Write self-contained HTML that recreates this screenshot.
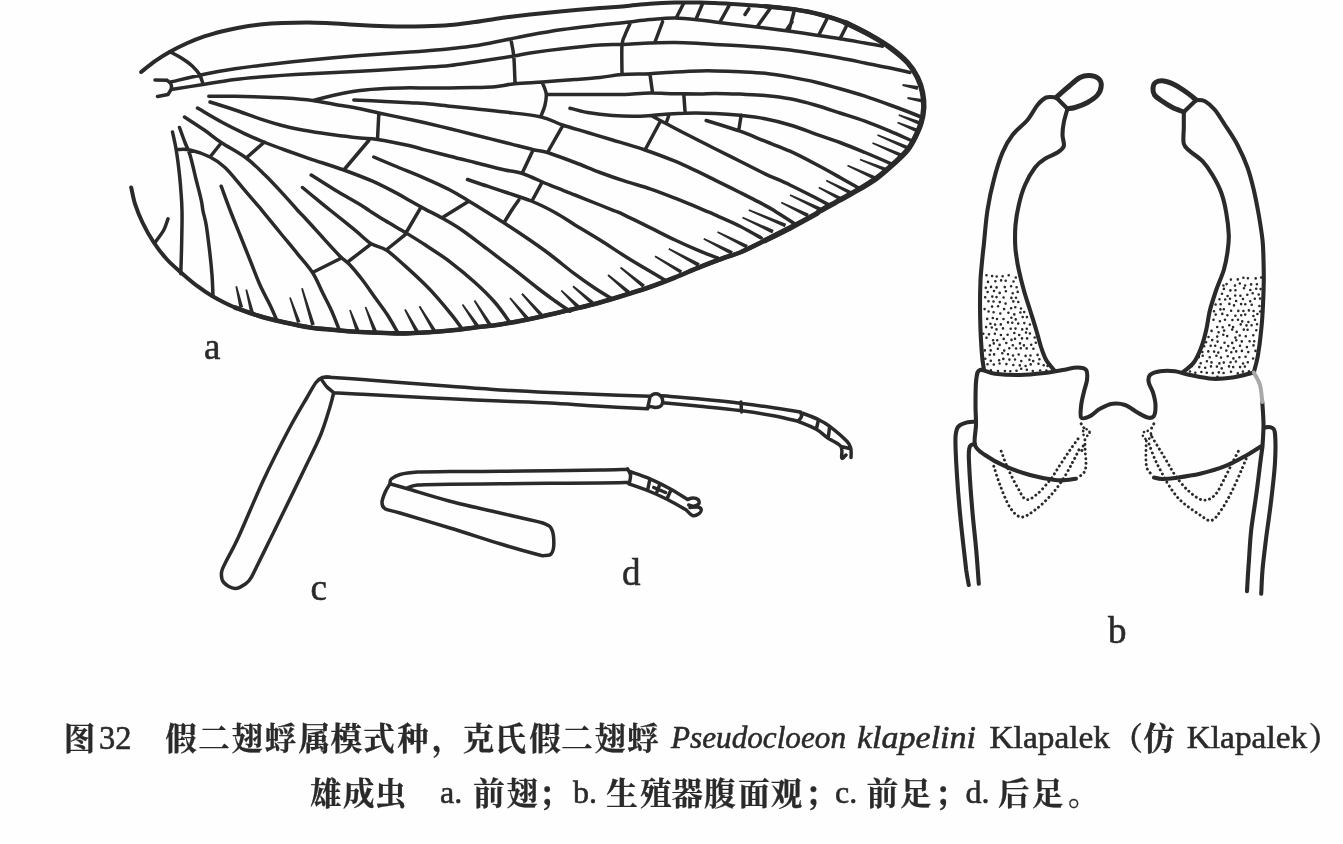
<!DOCTYPE html>
<html><head><meta charset="utf-8"><title>Fig. 32 Pseudocloeon klapelini</title>
<style>html,body{margin:0;padding:0;background:#fefefe}body{width:1343px;height:844px;overflow:hidden;font-family:"Liberation Serif",serif}svg{display:block;filter:blur(0.45px)}</style>
</head><body>
<svg width="1343" height="844" viewBox="0 0 1343 844">
<rect width="1343" height="844" fill="#fefefe"/>
<g fill="none" stroke="#2a2a2a" stroke-linecap="round" stroke-linejoin="round">
<path stroke-width="4.0" d="M141.2 72.0C143.5 70.2 150.2 64.6 155.0 61.2C159.8 57.9 164.6 54.8 170.0 51.8C175.4 48.7 181.7 45.6 187.5 43.0C193.3 40.4 199.2 38.2 205.0 36.2C210.8 34.3 216.7 32.7 222.5 31.2C228.3 29.8 233.8 28.6 240.0 27.5C246.2 26.4 252.9 25.2 260.0 24.5C267.1 23.8 274.6 23.3 282.5 23.0C290.4 22.7 299.6 22.5 307.5 22.5C315.4 22.5 322.9 22.9 330.0 23.2C337.1 23.6 342.9 24.1 350.0 24.5C357.1 24.9 364.6 25.4 372.5 25.8C380.4 26.1 388.8 26.4 397.5 26.5C406.2 26.6 416.2 26.5 425.0 26.2C433.8 26.0 441.7 25.7 450.0 25.0C458.3 24.3 465.8 23.2 475.0 22.0C484.2 20.8 495.8 18.8 505.0 17.5C514.2 16.2 520.4 15.5 530.0 14.5C539.6 13.5 550.8 12.3 562.5 11.2C574.2 10.2 589.6 8.8 600.0 8.0C610.4 7.2 616.7 7.0 625.0 6.2C633.3 5.5 641.7 4.4 650.0 3.8C658.3 3.1 666.7 2.7 675.0 2.5C683.3 2.3 693.3 2.4 700.0 2.5C706.7 2.6 708.3 2.7 715.0 3.0C721.7 3.3 731.7 4.0 740.0 4.5C748.3 5.0 755.8 5.4 765.0 6.2C774.2 7.1 785.8 8.1 795.0 9.5C804.2 10.9 811.7 12.3 820.0 14.5C828.3 16.7 836.7 19.1 845.0 22.5C853.3 25.9 862.5 30.8 870.0 35.0C877.5 39.2 883.8 42.9 890.0 47.5C896.2 52.1 902.9 57.5 907.5 62.5C912.1 67.5 915.0 72.5 917.5 77.5C920.0 82.5 921.5 87.5 922.5 92.5C923.5 97.5 924.0 102.5 923.8 107.5C923.5 112.5 922.7 117.5 921.2 122.5C919.8 127.5 917.3 132.9 915.0 137.5C912.7 142.1 910.8 145.8 907.5 150.0C904.2 154.2 900.0 157.9 895.0 162.5C890.0 167.1 883.3 173.1 877.5 177.5C871.7 181.9 866.2 185.0 860.0 188.8C853.8 192.5 846.7 196.3 840.0 200.0C833.3 203.7 824.2 208.6 820.0 211.0C815.8 213.4 820.0 211.7 815.0 214.5C810.0 217.3 798.3 223.7 790.0 228.0C781.7 232.3 773.3 236.4 765.0 240.5C756.7 244.6 746.7 249.7 740.0 252.5C733.3 255.3 731.7 255.1 725.0 257.5C718.3 259.9 708.3 263.7 700.0 267.0C691.7 270.3 683.3 274.2 675.0 277.5C666.7 280.8 658.3 284.1 650.0 287.0C641.7 289.9 633.3 292.4 625.0 295.0C616.7 297.6 608.3 300.2 600.0 302.5C591.7 304.8 583.3 306.8 575.0 308.8C566.7 310.8 558.3 312.6 550.0 314.5C541.7 316.4 533.3 318.3 525.0 320.0C516.7 321.7 508.3 323.2 500.0 324.5C491.7 325.8 483.3 326.5 475.0 327.5C466.7 328.5 460.8 329.5 450.0 330.5C439.2 331.5 420.8 332.8 410.0 333.2C399.2 333.7 393.3 333.2 385.0 333.0C376.7 332.8 368.3 332.5 360.0 332.0C351.7 331.5 343.3 330.8 335.0 330.0C326.7 329.2 318.3 328.8 310.0 327.5C301.7 326.2 293.3 324.4 285.0 322.5C276.7 320.6 268.3 318.8 260.0 316.2C251.7 313.8 242.9 310.8 235.0 307.5C227.1 304.2 218.8 299.8 212.5 296.2C206.2 292.7 202.5 290.0 197.5 286.2C192.5 282.5 187.5 278.1 182.5 273.8C177.5 269.4 172.3 265.2 167.5 260.0C162.7 254.8 157.9 248.8 153.8 242.5C149.6 236.2 145.6 229.0 142.5 222.5C139.4 216.0 136.9 209.6 135.0 203.8C133.1 197.9 131.9 190.2 131.2 187.5"/>
<path stroke-width="5.4" d="M845.0 22.5C849.2 24.6 862.5 30.8 870.0 35.0C877.5 39.2 883.8 42.9 890.0 47.5C896.2 52.1 902.9 57.5 907.5 62.5C912.1 67.5 915.0 72.5 917.5 77.5C920.0 82.5 921.5 87.5 922.5 92.5C923.5 97.5 924.0 102.5 923.8 107.5C923.5 112.5 922.7 117.5 921.2 122.5C919.8 127.5 917.3 132.9 915.0 137.5C912.7 142.1 910.8 145.8 907.5 150.0C904.2 154.2 900.0 157.9 895.0 162.5C890.0 167.1 883.3 173.1 877.5 177.5C871.7 181.9 866.2 185.0 860.0 188.8C853.8 192.5 846.7 196.3 840.0 200.0C833.3 203.7 824.2 208.6 820.0 211.0C815.8 213.4 820.0 211.7 815.0 214.5C810.0 217.3 798.3 223.7 790.0 228.0C781.7 232.3 769.2 238.4 765.0 240.5"/>
<path stroke-width="4.6" d="M790.0 228.0C785.8 230.1 773.3 236.4 765.0 240.5C756.7 244.6 746.7 249.7 740.0 252.5C733.3 255.3 731.7 255.1 725.0 257.5C718.3 259.9 708.3 263.7 700.0 267.0C691.7 270.3 683.3 274.2 675.0 277.5C666.7 280.8 658.3 284.1 650.0 287.0C641.7 289.9 633.3 292.4 625.0 295.0C616.7 297.6 608.3 300.2 600.0 302.5C591.7 304.8 583.3 306.8 575.0 308.8C566.7 310.8 558.3 312.6 550.0 314.5C541.7 316.4 533.3 318.3 525.0 320.0C516.7 321.7 508.3 323.2 500.0 324.5C491.7 325.8 483.3 326.5 475.0 327.5C466.7 328.5 460.8 329.5 450.0 330.5C439.2 331.5 420.8 332.8 410.0 333.2C399.2 333.7 393.3 333.2 385.0 333.0C376.7 332.8 368.3 332.5 360.0 332.0C351.7 331.5 343.3 330.8 335.0 330.0C326.7 329.2 318.3 328.8 310.0 327.5C301.7 326.2 293.3 324.4 285.0 322.5C276.7 320.6 268.3 318.8 260.0 316.2C251.7 313.8 239.2 309.0 235.0 307.5"/>
<path stroke-width="4.6" d="M765.0 6.2C770.0 6.8 785.8 8.1 795.0 9.5C804.2 10.9 811.7 12.3 820.0 14.5C828.3 16.7 836.7 19.1 845.0 22.5C853.3 25.9 865.8 32.9 870.0 35.0"/>
<path stroke-width="3.5" d="M170.8 82.0C176.1 80.8 192.3 76.7 203.0 74.5C213.7 72.3 225.5 70.2 235.0 68.8C244.5 67.2 247.5 67.0 260.0 65.5C272.5 64.0 293.3 61.7 310.0 60.0C326.7 58.3 343.3 56.8 360.0 55.5C376.7 54.2 399.2 52.7 410.0 52.0C420.8 51.2 418.3 51.6 425.0 51.0C431.7 50.5 441.7 49.6 450.0 48.8C458.3 47.9 465.8 47.2 475.0 45.8C484.2 44.3 495.8 41.8 505.0 40.0C514.2 38.2 520.4 36.8 530.0 35.0C539.6 33.2 550.8 31.2 562.5 29.5C574.2 27.8 589.6 26.2 600.0 25.0C610.4 23.8 616.7 23.4 625.0 22.5C633.3 21.6 641.7 20.2 650.0 19.5C658.3 18.8 666.7 17.9 675.0 18.0C683.3 18.1 693.3 19.3 700.0 20.0C706.7 20.7 708.3 21.1 715.0 21.9C721.7 22.8 731.7 24.0 740.0 25.0C748.3 26.0 756.7 27.0 765.0 28.0C773.3 29.0 781.7 30.1 790.0 31.2C798.3 32.4 806.7 33.8 815.0 35.0C823.3 36.2 831.7 37.4 840.0 38.8C848.3 40.1 857.9 41.8 865.0 43.0C872.1 44.2 879.6 45.7 882.5 46.2M171.2 89.5C176.5 88.7 192.4 86.2 203.0 84.5C213.6 82.8 225.5 80.8 235.0 79.5C244.5 78.2 247.5 78.0 260.0 77.0C272.5 76.0 293.3 74.7 310.0 73.8C326.7 72.8 343.3 72.2 360.0 71.2C376.7 70.3 399.2 68.8 410.0 68.2C420.8 67.5 418.3 67.8 425.0 67.3C431.7 66.9 441.7 66.4 450.0 65.5C458.3 64.6 464.6 63.5 475.0 62.0C485.4 60.5 503.3 57.8 512.5 56.2C521.7 54.8 521.7 54.2 530.0 53.0C538.3 51.8 550.8 50.1 562.5 48.8C574.2 47.4 590.0 45.7 600.0 45.0C610.0 44.3 614.2 44.8 622.5 44.5C630.8 44.2 641.2 43.3 650.0 43.0C658.8 42.7 666.7 42.4 675.0 42.5C683.3 42.6 693.3 43.1 700.0 43.4C706.7 43.7 708.3 44.0 715.0 44.4C721.7 44.8 731.7 45.3 740.0 45.8C748.3 46.4 756.7 46.8 765.0 47.5C773.3 48.2 781.7 49.0 790.0 50.0C798.3 51.0 806.7 52.4 815.0 53.8C823.3 55.1 831.7 56.5 840.0 58.0C848.3 59.5 856.7 61.3 865.0 63.0C873.3 64.7 882.5 66.4 890.0 68.0C897.5 69.6 906.7 71.8 910.0 72.5M312.5 100.5C316.2 99.6 327.1 96.7 335.0 95.0C342.9 93.3 351.7 91.6 360.0 90.5C368.3 89.4 376.7 88.9 385.0 88.5C393.3 88.1 403.3 87.9 410.0 87.8C416.7 87.8 418.3 87.9 425.0 88.0C431.7 88.0 441.7 88.1 450.0 88.0C458.3 87.9 467.5 87.7 475.0 87.5C482.5 87.3 488.3 87.4 495.0 86.8C501.7 86.1 507.1 84.5 515.0 83.8C522.9 83.0 532.5 82.7 542.5 82.0C552.5 81.3 565.4 80.2 575.0 79.5C584.6 78.8 592.2 78.3 600.0 77.5C607.8 76.7 613.7 75.1 622.0 74.5C630.3 73.9 641.2 74.2 650.0 73.8C658.8 73.3 666.7 72.5 675.0 72.0C683.3 71.5 693.3 71.0 700.0 70.9C706.7 70.7 708.3 70.7 715.0 70.9C721.7 71.0 731.7 71.3 740.0 71.7C748.3 72.1 756.7 72.4 765.0 73.2C773.3 74.1 781.7 75.5 790.0 77.0C798.3 78.5 806.7 80.0 815.0 82.0C823.3 84.0 831.7 86.4 840.0 88.8C848.3 91.1 856.7 93.5 865.0 96.2C873.3 99.0 882.5 102.3 890.0 105.0C897.5 107.7 904.8 110.5 910.0 112.5C915.2 114.5 919.4 116.2 921.2 117.0M208.8 96.2C213.1 96.2 226.5 96.1 235.0 96.2C243.5 96.4 251.7 96.7 260.0 97.0C268.3 97.3 276.2 97.4 285.0 98.0C293.8 98.6 304.2 99.4 312.5 100.5C320.8 101.6 327.1 103.1 335.0 104.5C342.9 105.9 352.7 107.3 360.0 108.8C367.3 110.2 370.4 111.2 378.8 113.0C387.1 114.8 402.3 117.8 410.0 119.5C417.7 121.1 418.3 121.2 425.0 122.7C431.7 124.3 441.7 126.7 450.0 128.8C458.3 130.8 465.8 132.7 475.0 135.0C484.2 137.3 495.4 140.1 505.0 142.5C514.6 144.9 525.4 147.8 532.5 149.5C539.6 151.2 540.4 150.3 547.5 152.5C554.6 154.7 566.2 159.2 575.0 162.5C583.8 165.8 591.7 169.4 600.0 172.5C608.3 175.6 616.7 178.5 625.0 181.2C633.3 184.0 641.7 185.9 650.0 188.8C658.3 191.6 668.3 195.5 675.0 198.1C681.7 200.7 685.0 202.1 690.0 204.2C695.0 206.3 700.8 208.8 705.0 210.6C709.2 212.4 709.2 212.3 715.0 214.9C720.8 217.6 732.3 222.4 740.0 226.2C747.7 230.1 757.7 236.0 761.2 238.0M353.8 100.0C359.0 100.2 375.6 101.0 385.0 101.5C394.4 101.9 403.3 102.4 410.0 102.7C416.7 103.1 418.3 102.9 425.0 103.5C431.7 104.1 441.7 105.4 450.0 106.2C458.3 107.1 465.8 107.8 475.0 108.8C484.2 109.7 494.0 110.6 505.0 112.0C516.0 113.4 531.7 114.8 541.2 117.0C550.8 119.2 554.8 122.4 562.5 125.0C570.2 127.6 579.2 130.0 587.5 132.5C595.8 135.0 602.9 137.1 612.5 140.0C622.1 142.9 634.6 146.5 645.0 150.0C655.4 153.5 665.8 157.5 675.0 161.2C684.2 165.0 693.3 169.6 700.0 172.7C706.7 175.9 708.3 176.8 715.0 180.1C721.7 183.4 731.7 188.3 740.0 192.5C748.3 196.7 759.2 202.2 765.0 205.4C770.8 208.5 770.8 208.6 775.0 211.2C779.2 213.8 786.5 218.4 790.0 220.7C793.5 223.0 795.2 224.3 796.2 225.0M210.0 102.0C214.2 103.3 226.7 107.2 235.0 110.0C243.3 112.8 251.7 116.0 260.0 118.8C268.3 121.5 276.7 124.2 285.0 126.2C293.3 128.3 301.7 129.8 310.0 131.2C318.3 132.7 326.7 133.9 335.0 135.0C343.3 136.1 352.9 137.2 360.0 138.0C367.1 138.8 369.2 138.2 377.5 139.5C385.8 140.8 402.1 144.1 410.0 145.8C417.9 147.6 418.3 148.1 425.0 149.9C431.7 151.6 441.7 154.1 450.0 156.2C458.3 158.4 465.8 160.2 475.0 162.5C484.2 164.8 497.1 168.2 505.0 170.0C512.9 171.8 515.0 171.0 522.5 173.5C530.0 176.0 541.2 181.7 550.0 185.2C558.8 188.8 566.7 191.7 575.0 195.0C583.3 198.3 593.3 202.3 600.0 205.0C606.7 207.7 610.8 209.3 615.0 211.0C619.2 212.7 619.2 212.6 625.0 215.4C630.8 218.1 641.7 223.5 650.0 227.6C658.3 231.7 666.7 236.1 675.0 240.0C683.3 243.9 692.9 248.2 700.0 251.2C707.1 254.2 714.6 256.9 717.5 258.0M197.5 108.0C201.7 110.4 214.6 118.2 222.5 122.5C230.4 126.8 237.9 130.4 245.0 133.8C252.1 137.1 258.3 139.8 265.0 142.5C271.7 145.2 277.5 147.3 285.0 150.0C292.5 152.7 300.2 155.4 310.0 158.8C319.8 162.1 333.3 166.2 343.8 170.0C354.2 173.8 363.5 177.3 372.5 181.2C381.5 185.2 391.2 190.4 397.5 193.6C403.8 196.9 405.4 198.2 410.0 200.8C414.6 203.4 419.6 206.2 425.0 209.1C430.4 212.0 436.2 214.7 442.5 218.3C448.8 221.9 455.0 225.3 462.5 230.5C470.0 235.7 479.2 243.0 487.5 249.2C495.8 255.5 504.2 261.8 512.5 268.2C520.8 274.7 530.4 282.5 537.5 288.0C544.6 293.5 549.6 297.1 555.0 301.0C560.4 304.9 567.5 309.5 570.0 311.2M184.5 117.0C187.9 119.2 198.9 126.2 205.0 130.5C211.1 134.8 214.4 137.9 221.2 142.5C228.1 147.1 239.0 152.6 246.2 158.0C253.5 163.4 258.5 168.7 265.0 175.0C271.5 181.3 279.6 190.2 285.0 196.1C290.4 201.9 294.2 206.6 297.5 210.2C300.8 213.9 300.8 213.4 305.0 218.0C309.2 222.5 316.7 230.9 322.5 237.3C328.3 243.7 335.4 251.6 340.0 256.2C344.6 260.9 346.2 261.0 350.0 265.0C353.8 269.0 358.3 274.6 362.5 280.0C366.7 285.4 370.8 291.7 375.0 297.5C379.2 303.3 383.8 309.2 387.5 315.0C391.2 320.8 395.8 329.2 397.5 332.0M177.5 149.5C179.6 149.6 184.6 148.8 190.0 150.0C195.4 151.2 204.2 154.1 210.0 157.0C215.8 159.9 219.6 162.4 225.0 167.5C230.4 172.6 237.1 181.3 242.5 187.6C247.9 193.9 254.2 201.2 257.5 205.1C260.8 209.0 258.8 206.5 262.5 211.1C266.2 215.6 274.2 225.3 280.0 232.5C285.8 239.6 292.1 247.1 297.5 253.8C302.9 260.4 308.3 266.0 312.5 272.5C316.7 279.0 319.4 286.2 322.5 292.5C325.6 298.8 328.5 304.0 331.2 310.0C334.0 316.0 337.5 325.6 338.8 328.8M172.5 132.0C173.1 135.0 175.1 142.8 176.2 150.0C177.4 157.2 178.7 167.5 179.5 175.0C180.3 182.5 180.8 189.0 181.2 195.0C181.7 201.0 181.9 206.0 182.0 211.0C182.1 216.0 182.1 218.5 182.0 225.0C181.9 231.5 181.7 241.9 181.5 250.0C181.3 258.1 180.9 269.8 180.8 273.8M179.5 127.5C180.4 130.0 183.2 137.9 185.0 142.5C186.8 147.1 188.1 148.8 190.0 155.0C191.9 161.2 194.4 172.5 196.2 180.0C198.1 187.5 200.1 194.8 201.2 200.0C202.4 205.2 202.2 206.8 203.0 211.0C203.8 215.2 205.2 218.5 206.2 225.0C207.3 231.5 208.5 241.7 209.5 250.0C210.5 258.3 211.4 267.3 212.0 275.0C212.6 282.7 212.8 292.7 213.0 296.2M311.2 175.0C315.2 177.5 326.9 185.1 335.0 190.0C343.1 194.9 354.2 200.9 360.0 204.4C365.8 207.9 365.8 208.4 370.0 211.1C374.2 213.8 379.0 216.9 385.0 220.6C391.0 224.3 399.6 229.0 406.2 233.0C412.9 237.1 417.7 240.0 425.0 244.8C432.3 249.6 441.7 255.5 450.0 261.8C458.3 268.1 467.5 275.7 475.0 282.5C482.5 289.3 489.2 295.8 495.0 302.5C500.8 309.2 507.5 319.2 510.0 322.5M302.5 187.5C305.0 189.6 312.7 196.0 317.5 199.9C322.3 203.8 325.0 205.9 331.2 211.0C337.5 216.0 348.3 224.8 355.0 230.2C361.7 235.7 366.0 240.5 371.2 243.8C376.5 247.0 380.6 246.3 386.2 250.0C391.9 253.7 398.5 260.2 405.0 265.9C411.5 271.7 419.6 279.2 425.0 284.6C430.4 289.9 432.9 292.7 437.5 297.9C442.1 303.2 448.3 310.7 452.5 315.9C456.7 321.2 460.8 327.2 462.5 329.5M373.8 157.0C377.7 158.7 389.0 163.5 397.5 167.0C406.0 170.5 416.2 174.4 425.0 178.3C433.8 182.1 442.9 186.3 450.0 190.0C457.1 193.7 461.7 196.8 467.5 200.2C473.3 203.7 481.7 208.9 485.0 211.0C488.3 213.0 484.2 210.4 487.5 212.5C490.8 214.6 498.8 219.5 505.0 223.5C511.2 227.6 517.5 231.6 525.0 236.8C532.5 241.9 541.7 248.2 550.0 254.5C558.3 260.8 567.5 268.6 575.0 274.2C582.5 279.9 589.2 284.4 595.0 288.2C600.8 292.1 607.5 296.0 610.0 297.5M467.5 179.5C470.8 180.6 481.2 184.2 487.5 186.2C493.8 188.3 497.7 189.5 505.0 192.0C512.3 194.5 522.9 197.6 531.2 201.0C539.6 204.4 547.7 208.5 555.0 212.5C562.3 216.5 567.5 220.3 575.0 224.9C582.5 229.4 591.7 234.8 600.0 240.0C608.3 245.2 616.7 251.0 625.0 256.2C633.3 261.5 643.3 267.3 650.0 271.2C656.7 275.2 662.5 278.5 665.0 280.0M546.2 94.5C551.0 94.5 566.0 94.5 575.0 94.5C584.0 94.5 591.7 94.5 600.0 94.5C608.3 94.5 616.7 94.8 625.0 94.5C633.3 94.2 641.7 93.1 650.0 93.0C658.3 92.9 666.7 93.6 675.0 93.8C683.3 93.9 693.3 93.9 700.0 93.9C706.7 93.8 708.3 93.4 715.0 93.4C721.7 93.5 731.7 93.8 740.0 94.1C748.3 94.5 756.7 94.7 765.0 95.5C773.3 96.3 781.7 97.2 790.0 98.8C798.3 100.3 806.7 102.6 815.0 105.0C823.3 107.4 831.7 110.3 840.0 113.0C848.3 115.7 856.7 118.2 865.0 121.2C873.3 124.3 882.3 128.0 890.0 131.2C897.7 134.5 907.7 139.0 911.2 140.5M570.0 108.2C572.9 109.0 580.4 111.3 587.5 112.5C594.6 113.7 604.2 114.9 612.5 115.5C620.8 116.1 629.2 116.4 637.5 116.2C645.8 116.1 654.6 115.0 662.5 114.5C670.4 114.0 676.2 113.4 685.0 113.2C693.8 113.0 705.8 113.1 715.0 113.4C724.2 113.8 731.7 114.4 740.0 115.3C748.3 116.2 756.7 117.1 765.0 118.8C773.3 120.4 781.7 122.5 790.0 125.0C798.3 127.5 806.7 130.8 815.0 133.8C823.3 136.7 831.7 139.4 840.0 142.5C848.3 145.6 856.5 149.0 865.0 152.5C873.5 156.0 886.9 161.9 891.2 163.8M652.5 116.2C655.2 117.7 662.9 121.9 668.8 125.0C674.6 128.1 679.8 130.9 687.5 134.8C695.2 138.8 706.2 144.3 715.0 148.7C723.8 153.1 731.7 157.1 740.0 161.2C748.3 165.4 756.7 169.8 765.0 173.8C773.3 177.7 781.7 181.0 790.0 185.0C798.3 189.0 808.3 194.1 815.0 197.5C821.7 200.9 827.5 204.2 830.0 205.5M518.8 200.0C517.5 201.8 513.5 207.5 511.2 211.0C509.0 214.5 506.0 219.5 505.0 221.2M170.0 51.8C172.1 52.9 178.8 56.3 182.5 58.8C186.2 61.2 189.7 63.6 192.5 66.2C195.3 68.9 197.8 71.6 199.5 74.5C201.2 77.4 202.4 82.2 203.0 83.8M155.0 80.0L167.0 80.2M167.0 80.2C167.6 80.8 170.0 82.3 170.8 83.8C171.5 85.2 171.7 87.0 171.2 88.8C170.8 90.5 168.5 93.5 168.0 94.5M168.0 94.5L157.5 96.5M378.8 113.8L377.5 139.5M368.8 140.5L343.8 170.0M264.5 142.0L246.2 158.0M221.2 143.0L210.0 157.0M168.0 218.8C167.3 220.6 165.9 226.0 163.8 230.0C161.6 234.0 156.5 240.4 155.0 242.5M221.2 186.2C222.7 190.2 226.9 201.9 230.0 210.0C233.1 218.1 236.7 226.7 240.0 235.0C243.3 243.3 246.7 251.7 250.0 260.0C253.3 268.3 256.7 277.5 260.0 285.0C263.3 292.5 267.3 299.4 270.0 305.0C272.7 310.6 275.2 316.5 276.2 318.8M312.5 272.5L340.0 258.8M348.8 261.2L371.2 243.8M386.2 250.0L406.2 233.8M406.2 232.5L420.0 208.8M511.2 41.2C511.7 43.8 513.1 49.4 513.8 56.2C514.4 63.1 514.8 78.1 515.0 82.5M630.0 23.8C629.2 25.6 626.3 31.5 625.0 35.0C623.7 38.5 622.5 38.5 622.0 45.0C621.5 51.5 622.0 69.0 622.0 73.8M662.5 22.0L655.0 42.0M683.8 3.0L676.2 18.0M702.5 3.8L696.2 18.8M728.8 6.2L720.0 22.0M542.5 83.0C543.1 84.8 545.8 90.1 546.2 93.8C546.7 97.4 545.8 101.4 545.0 105.0C544.2 108.6 541.9 113.8 541.2 115.5M650.0 74.5L652.5 92.5M683.8 94.5L685.0 111.2M668.8 115.5L666.2 123.0M660.0 122.0L645.0 150.0M562.5 126.2L547.5 152.5M532.5 151.2L522.5 172.5M541.2 183.8L532.5 200.0M467.5 202.0L442.5 217.5M748.8 8.8L745.0 14.5M770.0 8.8L757.5 26.2M793.8 12.5L788.8 31.2M792.0 22.0L786.2 30.5M827.0 18.8L818.8 35.0M847.0 25.0L840.0 38.8M706.2 120.5C711.9 122.3 730.2 127.8 740.0 131.2C749.8 134.7 756.7 137.9 765.0 141.2C773.3 144.6 781.7 147.5 790.0 151.2C798.3 155.0 806.7 159.4 815.0 163.8C823.3 168.1 832.5 173.3 840.0 177.5C847.5 181.7 856.7 186.9 860.0 188.8M741.2 115.0L738.8 130.0"/>
<path stroke-width="3.5" d="M330.0 377.0C328.8 377.1 324.8 376.6 322.5 377.5C320.2 378.4 318.6 379.2 316.0 382.5C313.4 385.8 311.6 389.6 307.0 397.5C302.4 405.4 295.8 416.2 288.5 430.0C281.2 443.8 271.8 462.2 263.5 480.0C255.2 497.8 244.8 523.2 238.5 537.0C232.2 550.8 228.3 556.6 225.5 562.5C222.7 568.4 221.8 569.2 221.5 572.5C221.2 575.8 221.5 579.8 223.8 582.5C226.0 585.2 231.3 588.3 235.0 588.5C238.7 588.7 243.2 585.4 246.0 583.5C248.8 581.6 249.6 580.1 251.5 577.0C253.4 573.9 254.4 571.2 257.5 565.0C260.6 558.8 266.3 547.1 269.8 540.0C273.3 532.9 272.7 534.2 278.4 522.5C284.1 510.8 297.0 484.6 304.0 470.0C311.0 455.4 316.3 445.4 320.6 435.0C324.9 424.6 327.6 414.5 329.8 407.5C332.0 400.5 333.0 395.4 333.6 393.0M321.5 379.5C322.4 380.8 325.0 384.8 327.0 387.0C329.0 389.2 332.5 391.6 333.6 392.5M325.0 377.0C331.2 377.4 350.0 378.6 362.5 379.5C375.0 380.4 385.4 381.4 400.0 382.5C414.6 383.6 433.3 385.0 450.0 386.2C466.7 387.5 483.3 389.0 500.0 390.0C516.7 391.0 533.3 391.8 550.0 392.5C566.7 393.2 583.3 393.9 600.0 394.5C616.7 395.1 641.7 396.0 650.0 396.2M333.6 392.8C338.4 393.1 351.4 393.7 362.5 394.3C373.6 394.9 385.4 395.5 400.0 396.2C414.6 397.0 433.3 398.0 450.0 398.8C466.7 399.5 483.3 400.3 500.0 401.0C516.7 401.7 533.3 402.1 550.0 403.0C566.7 403.9 583.8 405.3 600.0 406.2C616.2 407.2 639.6 408.3 647.5 408.8M647.5 408.8L650.0 397.0M650.0 396.5C650.7 396.1 652.5 394.3 654.0 394.0C655.5 393.7 657.7 393.8 659.0 394.5C660.3 395.2 661.4 396.6 662.0 398.0C662.6 399.4 662.8 401.6 662.5 403.0C662.2 404.4 661.2 405.8 660.0 406.5C658.8 407.2 656.7 407.5 655.0 407.5C653.3 407.5 651.2 406.4 650.0 406.5C648.8 406.6 648.3 407.8 648.0 408.0M660.0 395.6C666.7 396.2 686.7 397.7 700.0 399.0C713.3 400.3 727.5 401.7 740.0 403.2C752.5 404.7 765.0 406.5 775.0 408.0C785.0 409.5 795.8 411.3 800.0 412.0M663.0 402.7C669.2 403.3 687.2 405.0 700.0 406.3C712.8 407.6 727.5 409.0 740.0 410.6C752.5 412.2 765.2 414.2 775.0 416.0C784.8 417.8 794.8 420.6 798.8 421.5M741.0 402.0L741.5 412.0M799.9 412.2C803.0 413.4 813.5 417.2 818.5 419.6C823.5 422.0 825.0 422.7 829.7 426.3C834.4 429.9 843.4 437.6 846.9 441.3C850.4 445.0 850.1 446.0 850.8 448.7C851.5 451.4 851.0 456.0 851.0 457.5M797.6 421.1C800.7 422.5 811.2 426.4 816.3 429.3C821.4 432.2 824.1 435.4 828.2 438.3C832.3 441.2 838.6 443.2 840.9 446.5C843.2 449.8 840.9 456.6 841.8 458.0C842.6 459.4 845.3 455.5 846.0 455.0M818.5 419.6L816.3 429.3M829.7 426.3L828.2 438.3M840.9 446.5L850.8 448.7M800.5 412.0C800.7 412.8 801.9 414.9 801.5 416.5C801.1 418.1 798.6 420.5 798.0 421.3M390.0 483.8C392.9 484.6 397.5 485.8 407.5 488.8C417.5 491.7 434.6 497.2 450.0 501.2C465.4 505.3 487.5 510.1 500.0 513.0C512.5 515.9 517.5 517.0 525.0 518.8C532.5 520.5 540.5 521.9 545.0 523.8C549.5 525.6 550.5 526.5 552.0 530.0C553.5 533.5 553.9 541.0 553.8 545.0C553.6 549.0 552.7 552.0 551.2 553.8C549.8 555.5 547.3 555.4 545.0 555.5C542.7 555.6 545.0 556.5 537.5 554.5C530.0 552.5 514.6 548.2 500.0 543.8C485.4 539.3 466.7 533.1 450.0 528.0C433.3 522.9 410.8 516.2 400.0 513.0C389.2 509.8 388.0 510.5 385.0 508.8C382.0 507.0 382.0 505.2 382.0 502.5C382.0 499.8 383.7 495.6 385.0 492.5C386.3 489.4 389.2 485.2 390.0 483.8M390.0 483.0C390.2 482.3 389.6 480.4 391.2 479.0C392.9 477.6 395.6 475.7 400.0 474.5C404.4 473.3 409.2 472.5 417.5 472.0C425.8 471.5 436.2 471.7 450.0 471.6C463.8 471.5 483.3 471.4 500.0 471.3C516.7 471.2 533.3 471.0 550.0 470.8C566.7 470.6 587.1 470.2 600.0 470.0C612.9 469.8 622.9 469.4 627.5 469.3M407.5 488.0C409.2 487.5 410.4 485.6 417.5 485.0C424.6 484.4 436.2 484.5 450.0 484.2C463.8 484.0 483.3 483.9 500.0 483.8C516.7 483.6 533.3 483.4 550.0 483.2C566.7 483.1 586.9 483.1 600.0 483.0C613.1 482.9 624.0 482.6 628.8 482.5M627.5 468.8C628.0 469.8 630.2 472.7 630.5 475.0C630.8 477.3 629.7 481.2 629.5 482.5M628.8 471.2C632.3 472.5 643.1 475.8 650.0 478.8C656.9 481.7 663.8 485.3 670.0 488.8C676.2 492.2 684.6 497.7 687.5 499.5M628.8 483.8C631.9 484.9 641.0 487.9 647.5 490.5C654.0 493.1 661.0 496.2 667.5 499.5C674.0 502.8 683.1 508.2 686.2 510.0M650.0 478.8L647.5 490.5M660.0 483.8L656.2 493.8M671.2 489.5L667.0 498.8M653.8 487.5L665.5 492.5M687.5 499.5C688.4 499.2 691.2 498.0 693.0 498.0C694.8 498.0 697.0 498.5 698.0 499.5C699.0 500.5 699.5 502.6 698.8 503.8C698.0 504.9 695.4 506.0 693.8 506.2C692.1 506.5 689.6 505.2 688.8 505.0M686.2 510.0C687.3 510.9 690.4 514.9 692.5 515.5C694.6 516.1 697.3 514.8 698.8 513.8C700.2 512.8 701.5 510.6 701.2 509.5C701.0 508.4 699.4 507.3 697.5 507.0C695.6 506.7 691.2 507.4 690.0 507.5"/>
<path stroke-width="4.1" d="M1056.2 97.5C1054.6 97.5 1049.4 96.2 1046.2 97.5C1043.1 98.8 1040.6 101.2 1037.5 105.0C1034.4 108.8 1031.7 115.0 1027.5 120.0C1023.3 125.0 1016.7 129.6 1012.5 135.0C1008.3 140.4 1005.6 145.0 1002.5 152.5C999.4 160.0 996.2 170.4 993.8 180.0C991.2 189.6 989.2 199.2 987.5 210.0C985.8 220.8 984.7 236.3 983.8 245.0C982.8 253.7 982.5 256.2 982.0 262.0C981.5 267.8 980.8 272.8 980.5 280.0C980.2 287.2 980.0 296.7 980.0 305.0C980.0 313.3 980.2 321.7 980.5 330.0C980.8 338.3 981.5 348.5 982.0 355.0C982.5 361.5 983.5 366.5 983.8 368.8M1056.2 97.5L1067.5 108.8M1067.5 108.8C1066.9 111.0 1064.6 118.1 1063.8 122.5C1062.9 126.9 1062.5 131.0 1062.5 135.0C1062.5 139.0 1064.6 143.3 1063.8 146.2C1062.9 149.2 1060.6 150.4 1057.5 152.5C1054.4 154.6 1048.8 156.2 1045.0 158.8C1041.2 161.2 1038.3 163.1 1035.0 167.5C1031.7 171.9 1027.7 178.8 1025.0 185.0C1022.3 191.2 1020.3 198.3 1018.8 205.0C1017.2 211.7 1016.1 218.3 1015.5 225.0C1014.9 231.7 1015.0 239.7 1015.2 245.0C1015.4 250.3 1015.9 252.8 1016.5 257.0C1017.1 261.2 1017.5 264.5 1018.8 270.0C1020.0 275.5 1021.9 283.3 1023.8 290.0C1025.6 296.7 1027.9 303.3 1030.0 310.0C1032.1 316.7 1034.4 323.8 1036.2 330.0C1038.1 336.2 1039.6 342.5 1041.2 347.5C1042.9 352.5 1044.0 356.0 1046.2 360.0C1048.5 364.0 1053.5 369.4 1055.0 371.2M1196.2 100.0L1183.8 112.0M1196.2 100.0C1197.7 100.2 1201.9 99.6 1205.0 101.2C1208.1 102.9 1211.7 106.0 1215.0 110.0C1218.3 114.0 1221.2 119.2 1225.0 125.0C1228.8 130.8 1233.8 137.9 1237.5 145.0C1241.2 152.1 1244.8 160.0 1247.5 167.5C1250.2 175.0 1251.9 182.1 1253.8 190.0C1255.6 197.9 1257.3 206.7 1258.8 215.0C1260.2 223.3 1261.7 232.5 1262.5 240.0C1263.3 247.5 1263.3 253.3 1263.5 260.0C1263.7 266.7 1263.8 272.5 1263.8 280.0C1263.7 287.5 1263.4 296.7 1263.0 305.0C1262.6 313.3 1262.1 321.7 1261.2 330.0C1260.4 338.3 1259.2 347.9 1258.0 355.0C1256.8 362.1 1254.5 369.6 1253.8 372.5M1183.8 112.0C1183.8 114.6 1183.8 122.2 1183.8 127.5C1183.8 132.8 1182.7 139.8 1183.8 143.8C1184.8 147.7 1186.9 148.3 1190.0 151.2C1193.1 154.2 1198.8 157.3 1202.5 161.2C1206.2 165.2 1209.4 169.8 1212.5 175.0C1215.6 180.2 1219.0 186.2 1221.2 192.5C1223.5 198.8 1225.0 205.4 1226.2 212.5C1227.5 219.6 1228.5 228.4 1228.8 235.0C1229.0 241.6 1228.3 246.2 1227.5 252.0C1226.7 257.8 1225.6 263.7 1223.8 270.0C1221.9 276.3 1218.5 283.3 1216.2 290.0C1214.0 296.7 1211.7 303.3 1210.0 310.0C1208.3 316.7 1207.7 323.8 1206.2 330.0C1204.8 336.2 1203.3 342.1 1201.2 347.5C1199.2 352.9 1196.9 358.3 1193.8 362.5C1190.6 366.7 1184.4 370.8 1182.5 372.5M1076.0 478.7C1074.3 478.9 1069.5 479.8 1066.0 480.0C1062.5 480.2 1061.0 480.8 1055.0 480.0C1049.0 479.2 1038.3 477.3 1030.0 475.0C1021.7 472.7 1012.5 469.6 1005.0 466.2C997.5 462.9 990.0 458.5 985.0 455.0C980.0 451.5 976.5 450.0 975.0 445.0C973.5 440.0 975.9 431.7 976.0 425.0C976.1 418.3 975.5 412.5 975.5 405.0C975.5 397.5 975.5 385.8 976.2 380.0C977.0 374.2 976.9 371.0 980.0 370.0C983.1 369.0 988.3 372.9 995.0 373.8C1001.7 374.6 1011.7 375.1 1020.0 375.0C1028.3 374.9 1037.9 373.8 1045.0 373.0C1052.1 372.2 1057.1 370.9 1062.5 370.0C1067.9 369.1 1073.5 367.5 1077.5 367.5C1081.5 367.5 1084.7 367.9 1086.2 370.0C1087.8 372.1 1087.4 376.2 1087.0 380.0C1086.6 383.8 1084.7 388.3 1083.8 392.5C1082.8 396.7 1081.7 400.8 1081.2 405.0C1080.8 409.2 1079.8 415.6 1081.2 417.5C1082.7 419.4 1086.9 417.7 1090.0 416.2C1093.1 414.8 1096.2 410.8 1100.0 408.8C1103.8 406.7 1108.3 404.4 1112.5 403.8C1116.7 403.1 1120.8 403.5 1125.0 405.0C1129.2 406.5 1133.8 410.4 1137.5 412.5C1141.2 414.6 1144.8 416.9 1147.5 417.5C1150.2 418.1 1152.4 418.3 1153.8 416.2C1155.1 414.2 1155.6 409.0 1155.5 405.0C1155.4 401.0 1154.1 396.2 1153.0 392.5C1151.9 388.8 1149.2 385.4 1148.8 382.5C1148.2 379.6 1148.1 376.9 1150.0 375.0C1151.9 373.1 1155.8 371.9 1160.0 371.2C1164.2 370.6 1170.0 370.6 1175.0 371.2C1180.0 371.9 1183.8 373.8 1190.0 375.0C1196.2 376.2 1205.4 378.3 1212.5 378.8C1219.6 379.2 1225.6 378.5 1232.5 377.5C1239.4 376.5 1250.2 373.3 1253.8 372.5M1262.3 402.0C1262.5 405.8 1263.5 417.6 1263.5 425.0C1263.5 432.4 1262.7 442.7 1262.5 446.2M1261.2 446.2C1258.5 447.9 1251.0 452.9 1245.0 456.2C1239.0 459.6 1232.5 463.3 1225.0 466.2C1217.5 469.2 1208.3 471.8 1200.0 473.8C1191.7 475.7 1181.3 477.1 1175.0 478.0C1168.7 478.9 1165.5 479.1 1162.0 479.0C1158.5 478.9 1155.3 477.8 1154.0 477.5M975.5 421.5C973.8 421.8 967.9 422.1 965.0 423.0C962.1 423.9 959.6 424.6 958.0 427.0C956.4 429.4 955.8 431.6 955.5 437.5C955.2 443.4 955.7 452.1 956.2 462.5C956.8 472.9 957.7 487.5 958.8 500.0C959.8 512.5 961.2 525.8 962.5 537.5C963.8 549.2 965.2 562.1 966.2 570.0C967.3 577.9 968.3 582.5 968.8 585.0M975.0 443.8C974.2 444.2 971.0 444.4 970.0 446.2C969.0 448.1 968.8 449.4 968.8 455.0C968.8 460.6 969.4 470.4 970.0 480.0C970.6 489.6 971.5 500.8 972.5 512.5C973.5 524.2 975.2 538.1 976.2 550.0C977.3 561.9 978.3 578.1 978.8 583.8M1264.0 427.5C1265.2 427.5 1269.4 426.5 1271.2 427.5C1273.1 428.5 1274.4 427.9 1275.0 433.8C1275.6 439.6 1275.6 451.5 1275.0 462.5C1274.4 473.5 1272.7 487.5 1271.2 500.0C1269.8 512.5 1267.7 525.8 1266.2 537.5C1264.8 549.2 1263.3 560.6 1262.5 570.0C1261.7 579.4 1261.5 589.8 1261.2 593.8M1262.5 446.2C1262.1 449.4 1261.0 456.9 1260.0 465.0C1259.0 473.1 1257.7 484.2 1256.2 495.0C1254.8 505.8 1252.5 518.8 1251.2 530.0C1250.0 541.2 1249.5 552.3 1248.8 562.5C1248.0 572.7 1247.3 586.5 1247.0 591.2"/>
<path stroke-width="5.0" d="M1056.2 97.5C1058.1 95.8 1063.5 90.8 1067.5 87.5C1071.5 84.2 1076.2 79.5 1080.0 77.5C1083.8 75.5 1086.9 75.3 1090.0 75.5C1093.1 75.7 1096.9 77.0 1098.8 78.8C1100.6 80.5 1101.5 83.5 1101.2 86.2C1101.0 89.0 1099.8 92.3 1097.5 95.0C1095.2 97.7 1091.2 100.4 1087.5 102.5C1083.8 104.6 1078.3 106.5 1075.0 107.5C1071.7 108.5 1068.8 108.5 1067.5 108.8M1196.2 100.0C1194.8 98.8 1191.0 95.5 1187.5 93.0C1184.0 90.5 1179.0 87.0 1175.0 85.0C1171.0 83.0 1167.0 81.4 1163.8 81.0C1160.5 80.6 1157.3 81.3 1155.5 82.5C1153.7 83.7 1153.2 85.9 1153.0 88.0C1152.8 90.1 1153.1 92.9 1154.5 95.0C1155.9 97.1 1158.2 98.4 1161.2 100.5C1164.2 102.6 1168.8 105.6 1172.5 107.5C1176.2 109.4 1181.9 111.2 1183.8 112.0"/>
<path stroke-width="4" stroke="#a8a8a8" d="M1253.8 372.5C1254.8 374.6 1258.6 380.1 1260.0 385.0C1261.4 389.9 1261.9 399.2 1262.3 402.0"/>
<path stroke-width="2.9" stroke-dasharray="0.1 4.6" d="M993.8 466.2C994.8 469.4 997.3 478.1 1000.0 485.0C1002.7 491.9 1006.5 502.2 1010.0 507.5C1013.5 512.8 1017.1 516.6 1021.2 517.0C1025.4 517.4 1030.2 513.5 1035.0 510.0C1039.8 506.5 1045.4 501.2 1050.0 496.2C1054.6 491.2 1058.8 485.6 1062.5 480.0C1066.2 474.4 1069.6 467.9 1072.5 462.5C1075.4 457.1 1078.8 450.0 1080.0 447.5M1081.9 450.6L1084.0 443.0M1001.2 451.2C1002.3 454.0 1004.8 461.5 1007.5 467.5C1010.2 473.5 1014.4 482.2 1017.5 487.5C1020.6 492.8 1022.9 498.5 1026.2 499.5C1029.6 500.5 1033.5 497.0 1037.5 493.8C1041.5 490.5 1046.2 484.8 1050.0 480.0C1053.8 475.2 1056.7 470.0 1060.0 465.0C1063.3 460.0 1066.7 454.8 1070.0 450.0C1073.3 445.2 1078.3 438.5 1080.0 436.2M1081.2 423.8L1085.0 429.5M1084.9 439.8C1085.0 441.8 1085.0 447.8 1085.2 451.8C1085.4 455.8 1086.2 460.3 1086.0 463.7C1085.8 467.1 1085.8 469.7 1084.3 472.1C1082.8 474.5 1078.2 477.3 1077.0 478.3M1153.8 423.8L1150.0 431.2M1149.0 444.0C1150.0 446.5 1152.8 454.5 1154.8 459.0C1156.8 463.5 1158.6 466.7 1160.8 470.9C1163.0 475.1 1164.8 479.1 1168.0 484.0C1171.2 488.9 1174.7 494.8 1180.0 500.0C1185.3 505.2 1194.8 511.6 1200.0 515.0C1205.2 518.4 1207.7 521.3 1211.2 520.5C1214.8 519.7 1217.7 515.1 1221.2 510.0C1224.8 504.9 1229.0 497.1 1232.5 490.0C1236.0 482.9 1239.8 473.8 1242.5 467.5C1245.2 461.2 1247.7 455.0 1248.8 452.5M1152.0 437.0C1153.3 439.1 1157.1 445.3 1159.6 449.4C1162.1 453.4 1164.2 457.0 1166.8 461.3C1169.4 465.6 1171.5 470.2 1175.0 475.0C1178.5 479.8 1182.9 485.8 1187.5 490.0C1192.1 494.2 1197.9 499.2 1202.5 500.0C1207.1 500.8 1211.2 498.8 1215.0 495.0C1218.8 491.2 1222.1 482.9 1225.0 477.5C1227.9 472.1 1230.1 467.2 1232.5 462.5C1234.9 457.8 1238.3 451.2 1239.5 449.0M1146.3 441.0C1146.2 443.8 1145.8 453.2 1145.9 457.8C1146.0 462.4 1146.0 465.6 1147.1 468.5C1148.2 471.4 1151.7 474.3 1152.6 475.5"/>
<circle cx="1086.2" cy="432.6" r="3.4" stroke-width="2.6" stroke-dasharray="0.1 3.9"/>
<circle cx="1147.0" cy="435.0" r="4.2" stroke-width="2.6" stroke-dasharray="0.1 3.9"/>
</g>
<g fill="#2a2a2a">
<path d="M235.4 286.5L239.4 307.9L243.1 307.1L237.1 286.0ZM245.4 289.7L250.2 313.0L253.8 312.0L247.1 289.3ZM289.2 297.8L297.0 323.1L300.5 321.9L290.8 297.2ZM301.1 288.5L311.2 325.5L314.8 324.5L302.9 288.0ZM349.2 310.3L355.7 331.2L359.3 329.8L350.8 309.7ZM364.7 307.3L373.2 331.9L376.8 330.6L366.3 306.7ZM404.2 309.9L415.8 333.4L419.2 331.6L405.8 309.1ZM418.7 306.7L433.4 333.0L436.6 331.0L420.3 305.8ZM461.8 305.0L475.9 327.3L479.1 325.2L463.2 304.0ZM473.7 301.0L488.4 326.0L491.6 324.0L475.3 300.0ZM509.3 298.6L526.0 320.0L529.0 317.5L510.7 297.4ZM521.3 294.4L541.1 317.5L543.9 315.0L522.7 293.1ZM560.6 291.1L577.4 308.9L580.1 306.1L561.9 289.9ZM572.4 286.9L591.3 304.4L593.7 301.6L573.6 285.6ZM607.4 275.7L627.5 294.0L630.0 291.0L608.6 274.3ZM619.9 268.2L642.6 287.7L644.9 284.8L621.1 266.8ZM654.5 257.0L680.3 273.6L682.2 270.4L655.5 255.5ZM668.3 249.5L697.8 266.7L699.7 263.3L669.2 248.0ZM902.3 85.9L917.6 89.9L918.4 86.1L902.7 84.1ZM907.3 98.9L921.6 102.6L922.4 98.9L907.7 97.1ZM898.4 115.8L918.8 124.8L920.2 121.2L899.1 114.2ZM897.2 123.3L916.3 132.3L917.7 128.7L897.8 121.7ZM877.1 135.8L907.3 149.7L908.7 146.3L877.9 134.2ZM872.1 143.8L902.3 157.7L903.7 154.3L872.9 142.2ZM859.7 160.3L887.3 172.3L888.7 168.7L860.3 158.7ZM847.1 166.3L876.2 180.7L877.8 177.3L847.9 164.7ZM825.8 181.3L852.1 195.7L853.9 192.3L826.7 179.7ZM818.3 188.3L842.1 201.7L843.9 198.3L819.2 186.7ZM789.6 195.8L819.7 211.2L821.3 207.8L790.4 194.2ZM780.9 203.3L807.2 217.2L808.8 213.8L781.6 201.7ZM748.4 210.8L784.8 227.3L786.2 223.7L749.1 209.2ZM742.1 218.3L772.2 233.5L773.8 230.0L742.9 216.7ZM717.1 232.8L746.2 248.4L747.8 245.1L717.9 231.2ZM703.3 239.6L731.1 254.7L732.9 251.3L704.2 237.9Z"/>
<path d="M986.5 275.2m-1.3 0a1.3 1.3 0 1 0 2.6 0a1.3 1.3 0 1 0 -2.6 0M992.1 276.1m-1.3 0a1.3 1.3 0 1 0 2.6 0a1.3 1.3 0 1 0 -2.6 0M996.7 276.5m-1.3 0a1.3 1.3 0 1 0 2.6 0a1.3 1.3 0 1 0 -2.6 0M1002.6 276.3m-1.3 0a1.3 1.3 0 1 0 2.6 0a1.3 1.3 0 1 0 -2.6 0M1008.7 275.3m-1.3 0a1.3 1.3 0 1 0 2.6 0a1.3 1.3 0 1 0 -2.6 0M1015.8 277.5m-1.3 0a1.3 1.3 0 1 0 2.6 0a1.3 1.3 0 1 0 -2.6 0M988.0 281.9m-1.3 0a1.3 1.3 0 1 0 2.6 0a1.3 1.3 0 1 0 -2.6 0M995.4 281.3m-1.3 0a1.3 1.3 0 1 0 2.6 0a1.3 1.3 0 1 0 -2.6 0M1001.1 280.4m-1.3 0a1.3 1.3 0 1 0 2.6 0a1.3 1.3 0 1 0 -2.6 0M1005.7 280.8m-1.3 0a1.3 1.3 0 1 0 2.6 0a1.3 1.3 0 1 0 -2.6 0M1013.5 281.5m-1.3 0a1.3 1.3 0 1 0 2.6 0a1.3 1.3 0 1 0 -2.6 0M985.8 287.7m-1.3 0a1.3 1.3 0 1 0 2.6 0a1.3 1.3 0 1 0 -2.6 0M991.0 286.9m-1.3 0a1.3 1.3 0 1 0 2.6 0a1.3 1.3 0 1 0 -2.6 0M996.6 287.4m-1.3 0a1.3 1.3 0 1 0 2.6 0a1.3 1.3 0 1 0 -2.6 0M1004.8 287.1m-1.3 0a1.3 1.3 0 1 0 2.6 0a1.3 1.3 0 1 0 -2.6 0M1011.1 286.3m-1.3 0a1.3 1.3 0 1 0 2.6 0a1.3 1.3 0 1 0 -2.6 0M1016.6 287.2m-1.3 0a1.3 1.3 0 1 0 2.6 0a1.3 1.3 0 1 0 -2.6 0M987.6 292.0m-1.3 0a1.3 1.3 0 1 0 2.6 0a1.3 1.3 0 1 0 -2.6 0M994.0 291.0m-1.3 0a1.3 1.3 0 1 0 2.6 0a1.3 1.3 0 1 0 -2.6 0M999.7 292.9m-1.3 0a1.3 1.3 0 1 0 2.6 0a1.3 1.3 0 1 0 -2.6 0M1005.9 291.3m-1.3 0a1.3 1.3 0 1 0 2.6 0a1.3 1.3 0 1 0 -2.6 0M1012.7 293.2m-1.3 0a1.3 1.3 0 1 0 2.6 0a1.3 1.3 0 1 0 -2.6 0M1017.7 291.9m-1.3 0a1.3 1.3 0 1 0 2.6 0a1.3 1.3 0 1 0 -2.6 0M985.2 297.3m-1.3 0a1.3 1.3 0 1 0 2.6 0a1.3 1.3 0 1 0 -2.6 0M992.3 296.6m-1.3 0a1.3 1.3 0 1 0 2.6 0a1.3 1.3 0 1 0 -2.6 0M996.5 297.1m-1.3 0a1.3 1.3 0 1 0 2.6 0a1.3 1.3 0 1 0 -2.6 0M1003.6 297.5m-1.3 0a1.3 1.3 0 1 0 2.6 0a1.3 1.3 0 1 0 -2.6 0M1011.4 297.9m-1.3 0a1.3 1.3 0 1 0 2.6 0a1.3 1.3 0 1 0 -2.6 0M1016.0 297.7m-1.3 0a1.3 1.3 0 1 0 2.6 0a1.3 1.3 0 1 0 -2.6 0M988.5 301.2m-1.3 0a1.3 1.3 0 1 0 2.6 0a1.3 1.3 0 1 0 -2.6 0M993.5 301.5m-1.3 0a1.3 1.3 0 1 0 2.6 0a1.3 1.3 0 1 0 -2.6 0M999.8 302.1m-1.3 0a1.3 1.3 0 1 0 2.6 0a1.3 1.3 0 1 0 -2.6 0M1005.6 303.6m-1.3 0a1.3 1.3 0 1 0 2.6 0a1.3 1.3 0 1 0 -2.6 0M1013.3 301.4m-1.3 0a1.3 1.3 0 1 0 2.6 0a1.3 1.3 0 1 0 -2.6 0M1018.3 302.0m-1.3 0a1.3 1.3 0 1 0 2.6 0a1.3 1.3 0 1 0 -2.6 0M984.6 309.1m-1.3 0a1.3 1.3 0 1 0 2.6 0a1.3 1.3 0 1 0 -2.6 0M992.1 306.6m-1.3 0a1.3 1.3 0 1 0 2.6 0a1.3 1.3 0 1 0 -2.6 0M998.1 306.3m-1.3 0a1.3 1.3 0 1 0 2.6 0a1.3 1.3 0 1 0 -2.6 0M1004.1 309.1m-1.3 0a1.3 1.3 0 1 0 2.6 0a1.3 1.3 0 1 0 -2.6 0M1011.1 308.3m-1.3 0a1.3 1.3 0 1 0 2.6 0a1.3 1.3 0 1 0 -2.6 0M1015.3 307.3m-1.3 0a1.3 1.3 0 1 0 2.6 0a1.3 1.3 0 1 0 -2.6 0M1021.0 308.5m-1.3 0a1.3 1.3 0 1 0 2.6 0a1.3 1.3 0 1 0 -2.6 0M988.6 311.5m-1.3 0a1.3 1.3 0 1 0 2.6 0a1.3 1.3 0 1 0 -2.6 0M993.6 312.2m-1.3 0a1.3 1.3 0 1 0 2.6 0a1.3 1.3 0 1 0 -2.6 0M1000.3 313.5m-1.3 0a1.3 1.3 0 1 0 2.6 0a1.3 1.3 0 1 0 -2.6 0M1008.4 312.7m-1.3 0a1.3 1.3 0 1 0 2.6 0a1.3 1.3 0 1 0 -2.6 0M1014.3 314.4m-1.3 0a1.3 1.3 0 1 0 2.6 0a1.3 1.3 0 1 0 -2.6 0M1020.4 312.5m-1.3 0a1.3 1.3 0 1 0 2.6 0a1.3 1.3 0 1 0 -2.6 0M1024.2 312.1m-1.3 0a1.3 1.3 0 1 0 2.6 0a1.3 1.3 0 1 0 -2.6 0M987.2 318.9m-1.3 0a1.3 1.3 0 1 0 2.6 0a1.3 1.3 0 1 0 -2.6 0M992.8 318.0m-1.3 0a1.3 1.3 0 1 0 2.6 0a1.3 1.3 0 1 0 -2.6 0M997.0 319.0m-1.3 0a1.3 1.3 0 1 0 2.6 0a1.3 1.3 0 1 0 -2.6 0M1003.5 319.0m-1.3 0a1.3 1.3 0 1 0 2.6 0a1.3 1.3 0 1 0 -2.6 0M1011.4 317.8m-1.3 0a1.3 1.3 0 1 0 2.6 0a1.3 1.3 0 1 0 -2.6 0M1015.7 319.4m-1.3 0a1.3 1.3 0 1 0 2.6 0a1.3 1.3 0 1 0 -2.6 0M1022.7 317.1m-1.3 0a1.3 1.3 0 1 0 2.6 0a1.3 1.3 0 1 0 -2.6 0M1026.9 317.1m-1.3 0a1.3 1.3 0 1 0 2.6 0a1.3 1.3 0 1 0 -2.6 0M990.4 323.7m-1.3 0a1.3 1.3 0 1 0 2.6 0a1.3 1.3 0 1 0 -2.6 0M995.1 324.6m-1.3 0a1.3 1.3 0 1 0 2.6 0a1.3 1.3 0 1 0 -2.6 0M1000.8 324.4m-1.3 0a1.3 1.3 0 1 0 2.6 0a1.3 1.3 0 1 0 -2.6 0M1008.0 322.4m-1.3 0a1.3 1.3 0 1 0 2.6 0a1.3 1.3 0 1 0 -2.6 0M1012.3 322.7m-1.3 0a1.3 1.3 0 1 0 2.6 0a1.3 1.3 0 1 0 -2.6 0M1018.2 323.6m-1.3 0a1.3 1.3 0 1 0 2.6 0a1.3 1.3 0 1 0 -2.6 0M1024.3 323.1m-1.3 0a1.3 1.3 0 1 0 2.6 0a1.3 1.3 0 1 0 -2.6 0M1029.9 324.5m-1.3 0a1.3 1.3 0 1 0 2.6 0a1.3 1.3 0 1 0 -2.6 0M986.1 327.1m-1.3 0a1.3 1.3 0 1 0 2.6 0a1.3 1.3 0 1 0 -2.6 0M991.8 327.5m-1.3 0a1.3 1.3 0 1 0 2.6 0a1.3 1.3 0 1 0 -2.6 0M996.5 329.4m-1.3 0a1.3 1.3 0 1 0 2.6 0a1.3 1.3 0 1 0 -2.6 0M1003.0 328.4m-1.3 0a1.3 1.3 0 1 0 2.6 0a1.3 1.3 0 1 0 -2.6 0M1010.7 328.7m-1.3 0a1.3 1.3 0 1 0 2.6 0a1.3 1.3 0 1 0 -2.6 0M1015.5 328.6m-1.3 0a1.3 1.3 0 1 0 2.6 0a1.3 1.3 0 1 0 -2.6 0M1022.2 329.4m-1.3 0a1.3 1.3 0 1 0 2.6 0a1.3 1.3 0 1 0 -2.6 0M1026.8 328.7m-1.3 0a1.3 1.3 0 1 0 2.6 0a1.3 1.3 0 1 0 -2.6 0M983.3 333.7m-1.3 0a1.3 1.3 0 1 0 2.6 0a1.3 1.3 0 1 0 -2.6 0M989.0 334.3m-1.3 0a1.3 1.3 0 1 0 2.6 0a1.3 1.3 0 1 0 -2.6 0M994.9 333.8m-1.3 0a1.3 1.3 0 1 0 2.6 0a1.3 1.3 0 1 0 -2.6 0M1000.9 335.0m-1.3 0a1.3 1.3 0 1 0 2.6 0a1.3 1.3 0 1 0 -2.6 0M1007.6 334.8m-1.3 0a1.3 1.3 0 1 0 2.6 0a1.3 1.3 0 1 0 -2.6 0M1014.3 333.0m-1.3 0a1.3 1.3 0 1 0 2.6 0a1.3 1.3 0 1 0 -2.6 0M1019.2 335.0m-1.3 0a1.3 1.3 0 1 0 2.6 0a1.3 1.3 0 1 0 -2.6 0M1026.0 332.6m-1.3 0a1.3 1.3 0 1 0 2.6 0a1.3 1.3 0 1 0 -2.6 0M1029.9 333.5m-1.3 0a1.3 1.3 0 1 0 2.6 0a1.3 1.3 0 1 0 -2.6 0M986.5 337.8m-1.3 0a1.3 1.3 0 1 0 2.6 0a1.3 1.3 0 1 0 -2.6 0M993.1 340.3m-1.3 0a1.3 1.3 0 1 0 2.6 0a1.3 1.3 0 1 0 -2.6 0M997.2 340.3m-1.3 0a1.3 1.3 0 1 0 2.6 0a1.3 1.3 0 1 0 -2.6 0M1003.7 338.9m-1.3 0a1.3 1.3 0 1 0 2.6 0a1.3 1.3 0 1 0 -2.6 0M1011.5 339.9m-1.3 0a1.3 1.3 0 1 0 2.6 0a1.3 1.3 0 1 0 -2.6 0M1015.0 338.7m-1.3 0a1.3 1.3 0 1 0 2.6 0a1.3 1.3 0 1 0 -2.6 0M1022.0 338.4m-1.3 0a1.3 1.3 0 1 0 2.6 0a1.3 1.3 0 1 0 -2.6 0M1027.1 338.4m-1.3 0a1.3 1.3 0 1 0 2.6 0a1.3 1.3 0 1 0 -2.6 0M1034.7 337.5m-1.3 0a1.3 1.3 0 1 0 2.6 0a1.3 1.3 0 1 0 -2.6 0M989.9 345.5m-1.3 0a1.3 1.3 0 1 0 2.6 0a1.3 1.3 0 1 0 -2.6 0M993.8 343.4m-1.3 0a1.3 1.3 0 1 0 2.6 0a1.3 1.3 0 1 0 -2.6 0M999.6 344.9m-1.3 0a1.3 1.3 0 1 0 2.6 0a1.3 1.3 0 1 0 -2.6 0M1006.3 343.0m-1.3 0a1.3 1.3 0 1 0 2.6 0a1.3 1.3 0 1 0 -2.6 0M1012.8 345.3m-1.3 0a1.3 1.3 0 1 0 2.6 0a1.3 1.3 0 1 0 -2.6 0M1020.0 343.4m-1.3 0a1.3 1.3 0 1 0 2.6 0a1.3 1.3 0 1 0 -2.6 0M1023.9 345.4m-1.3 0a1.3 1.3 0 1 0 2.6 0a1.3 1.3 0 1 0 -2.6 0M1031.2 344.7m-1.3 0a1.3 1.3 0 1 0 2.6 0a1.3 1.3 0 1 0 -2.6 0M1035.8 342.8m-1.3 0a1.3 1.3 0 1 0 2.6 0a1.3 1.3 0 1 0 -2.6 0M984.8 350.4m-1.3 0a1.3 1.3 0 1 0 2.6 0a1.3 1.3 0 1 0 -2.6 0M990.7 350.4m-1.3 0a1.3 1.3 0 1 0 2.6 0a1.3 1.3 0 1 0 -2.6 0M997.9 348.8m-1.3 0a1.3 1.3 0 1 0 2.6 0a1.3 1.3 0 1 0 -2.6 0M1004.2 350.6m-1.3 0a1.3 1.3 0 1 0 2.6 0a1.3 1.3 0 1 0 -2.6 0M1009.3 348.2m-1.3 0a1.3 1.3 0 1 0 2.6 0a1.3 1.3 0 1 0 -2.6 0M1016.1 348.5m-1.3 0a1.3 1.3 0 1 0 2.6 0a1.3 1.3 0 1 0 -2.6 0M1020.8 348.3m-1.3 0a1.3 1.3 0 1 0 2.6 0a1.3 1.3 0 1 0 -2.6 0M1026.7 348.4m-1.3 0a1.3 1.3 0 1 0 2.6 0a1.3 1.3 0 1 0 -2.6 0M1033.4 348.7m-1.3 0a1.3 1.3 0 1 0 2.6 0a1.3 1.3 0 1 0 -2.6 0M989.7 354.7m-1.3 0a1.3 1.3 0 1 0 2.6 0a1.3 1.3 0 1 0 -2.6 0M994.1 354.4m-1.3 0a1.3 1.3 0 1 0 2.6 0a1.3 1.3 0 1 0 -2.6 0M1002.3 353.3m-1.3 0a1.3 1.3 0 1 0 2.6 0a1.3 1.3 0 1 0 -2.6 0M1008.0 354.3m-1.3 0a1.3 1.3 0 1 0 2.6 0a1.3 1.3 0 1 0 -2.6 0M1013.0 355.5m-1.3 0a1.3 1.3 0 1 0 2.6 0a1.3 1.3 0 1 0 -2.6 0M1018.7 354.5m-1.3 0a1.3 1.3 0 1 0 2.6 0a1.3 1.3 0 1 0 -2.6 0M1025.6 355.9m-1.3 0a1.3 1.3 0 1 0 2.6 0a1.3 1.3 0 1 0 -2.6 0M1030.5 355.5m-1.3 0a1.3 1.3 0 1 0 2.6 0a1.3 1.3 0 1 0 -2.6 0M1037.6 354.9m-1.3 0a1.3 1.3 0 1 0 2.6 0a1.3 1.3 0 1 0 -2.6 0M985.3 358.7m-1.3 0a1.3 1.3 0 1 0 2.6 0a1.3 1.3 0 1 0 -2.6 0M990.8 360.7m-1.3 0a1.3 1.3 0 1 0 2.6 0a1.3 1.3 0 1 0 -2.6 0M999.1 360.2m-1.3 0a1.3 1.3 0 1 0 2.6 0a1.3 1.3 0 1 0 -2.6 0M1003.3 358.9m-1.3 0a1.3 1.3 0 1 0 2.6 0a1.3 1.3 0 1 0 -2.6 0M1009.4 359.6m-1.3 0a1.3 1.3 0 1 0 2.6 0a1.3 1.3 0 1 0 -2.6 0M1015.0 359.5m-1.3 0a1.3 1.3 0 1 0 2.6 0a1.3 1.3 0 1 0 -2.6 0M1021.3 361.1m-1.3 0a1.3 1.3 0 1 0 2.6 0a1.3 1.3 0 1 0 -2.6 0M1029.4 359.8m-1.3 0a1.3 1.3 0 1 0 2.6 0a1.3 1.3 0 1 0 -2.6 0M1033.2 361.1m-1.3 0a1.3 1.3 0 1 0 2.6 0a1.3 1.3 0 1 0 -2.6 0M1039.4 359.3m-1.3 0a1.3 1.3 0 1 0 2.6 0a1.3 1.3 0 1 0 -2.6 0M987.5 364.2m-1.3 0a1.3 1.3 0 1 0 2.6 0a1.3 1.3 0 1 0 -2.6 0M993.8 364.6m-1.3 0a1.3 1.3 0 1 0 2.6 0a1.3 1.3 0 1 0 -2.6 0M999.6 363.5m-1.3 0a1.3 1.3 0 1 0 2.6 0a1.3 1.3 0 1 0 -2.6 0M1006.4 364.1m-1.3 0a1.3 1.3 0 1 0 2.6 0a1.3 1.3 0 1 0 -2.6 0M1013.3 365.0m-1.3 0a1.3 1.3 0 1 0 2.6 0a1.3 1.3 0 1 0 -2.6 0M1019.8 365.4m-1.3 0a1.3 1.3 0 1 0 2.6 0a1.3 1.3 0 1 0 -2.6 0M1025.6 366.0m-1.3 0a1.3 1.3 0 1 0 2.6 0a1.3 1.3 0 1 0 -2.6 0M1030.7 364.4m-1.3 0a1.3 1.3 0 1 0 2.6 0a1.3 1.3 0 1 0 -2.6 0M1038.5 363.8m-1.3 0a1.3 1.3 0 1 0 2.6 0a1.3 1.3 0 1 0 -2.6 0M1043.7 365.3m-1.3 0a1.3 1.3 0 1 0 2.6 0a1.3 1.3 0 1 0 -2.6 0M1047.6 365.9m-1.3 0a1.3 1.3 0 1 0 2.6 0a1.3 1.3 0 1 0 -2.6 0M990.9 370.2m-1.3 0a1.3 1.3 0 1 0 2.6 0a1.3 1.3 0 1 0 -2.6 0M998.0 371.1m-1.3 0a1.3 1.3 0 1 0 2.6 0a1.3 1.3 0 1 0 -2.6 0M1004.9 371.1m-1.3 0a1.3 1.3 0 1 0 2.6 0a1.3 1.3 0 1 0 -2.6 0M1010.3 371.3m-1.3 0a1.3 1.3 0 1 0 2.6 0a1.3 1.3 0 1 0 -2.6 0M1016.5 370.7m-1.3 0a1.3 1.3 0 1 0 2.6 0a1.3 1.3 0 1 0 -2.6 0M1021.2 368.7m-1.3 0a1.3 1.3 0 1 0 2.6 0a1.3 1.3 0 1 0 -2.6 0M1026.9 369.7m-1.3 0a1.3 1.3 0 1 0 2.6 0a1.3 1.3 0 1 0 -2.6 0M1032.8 371.1m-1.3 0a1.3 1.3 0 1 0 2.6 0a1.3 1.3 0 1 0 -2.6 0M1040.2 370.5m-1.3 0a1.3 1.3 0 1 0 2.6 0a1.3 1.3 0 1 0 -2.6 0M1046.4 370.6m-1.3 0a1.3 1.3 0 1 0 2.6 0a1.3 1.3 0 1 0 -2.6 0M1230.9 279.6m-1.3 0a1.3 1.3 0 1 0 2.6 0a1.3 1.3 0 1 0 -2.6 0M1237.8 279.4m-1.3 0a1.3 1.3 0 1 0 2.6 0a1.3 1.3 0 1 0 -2.6 0M1243.4 277.7m-1.3 0a1.3 1.3 0 1 0 2.6 0a1.3 1.3 0 1 0 -2.6 0M1247.9 278.3m-1.3 0a1.3 1.3 0 1 0 2.6 0a1.3 1.3 0 1 0 -2.6 0M1255.7 278.4m-1.3 0a1.3 1.3 0 1 0 2.6 0a1.3 1.3 0 1 0 -2.6 0M1261.2 277.5m-1.3 0a1.3 1.3 0 1 0 2.6 0a1.3 1.3 0 1 0 -2.6 0M1223.4 285.5m-1.3 0a1.3 1.3 0 1 0 2.6 0a1.3 1.3 0 1 0 -2.6 0M1226.6 284.1m-1.3 0a1.3 1.3 0 1 0 2.6 0a1.3 1.3 0 1 0 -2.6 0M1235.0 285.6m-1.3 0a1.3 1.3 0 1 0 2.6 0a1.3 1.3 0 1 0 -2.6 0M1239.8 283.5m-1.3 0a1.3 1.3 0 1 0 2.6 0a1.3 1.3 0 1 0 -2.6 0M1245.1 285.5m-1.3 0a1.3 1.3 0 1 0 2.6 0a1.3 1.3 0 1 0 -2.6 0M1251.1 284.4m-1.3 0a1.3 1.3 0 1 0 2.6 0a1.3 1.3 0 1 0 -2.6 0M1256.9 284.3m-1.3 0a1.3 1.3 0 1 0 2.6 0a1.3 1.3 0 1 0 -2.6 0M1223.9 288.9m-1.3 0a1.3 1.3 0 1 0 2.6 0a1.3 1.3 0 1 0 -2.6 0M1230.4 290.4m-1.3 0a1.3 1.3 0 1 0 2.6 0a1.3 1.3 0 1 0 -2.6 0M1235.5 290.2m-1.3 0a1.3 1.3 0 1 0 2.6 0a1.3 1.3 0 1 0 -2.6 0M1244.0 288.3m-1.3 0a1.3 1.3 0 1 0 2.6 0a1.3 1.3 0 1 0 -2.6 0M1250.3 290.0m-1.3 0a1.3 1.3 0 1 0 2.6 0a1.3 1.3 0 1 0 -2.6 0M1256.2 288.8m-1.3 0a1.3 1.3 0 1 0 2.6 0a1.3 1.3 0 1 0 -2.6 0M1260.6 289.1m-1.3 0a1.3 1.3 0 1 0 2.6 0a1.3 1.3 0 1 0 -2.6 0M1222.0 293.7m-1.3 0a1.3 1.3 0 1 0 2.6 0a1.3 1.3 0 1 0 -2.6 0M1227.6 296.0m-1.3 0a1.3 1.3 0 1 0 2.6 0a1.3 1.3 0 1 0 -2.6 0M1235.2 295.5m-1.3 0a1.3 1.3 0 1 0 2.6 0a1.3 1.3 0 1 0 -2.6 0M1240.4 295.8m-1.3 0a1.3 1.3 0 1 0 2.6 0a1.3 1.3 0 1 0 -2.6 0M1247.3 294.7m-1.3 0a1.3 1.3 0 1 0 2.6 0a1.3 1.3 0 1 0 -2.6 0M1252.7 293.2m-1.3 0a1.3 1.3 0 1 0 2.6 0a1.3 1.3 0 1 0 -2.6 0M1258.7 294.5m-1.3 0a1.3 1.3 0 1 0 2.6 0a1.3 1.3 0 1 0 -2.6 0M1219.5 299.2m-1.3 0a1.3 1.3 0 1 0 2.6 0a1.3 1.3 0 1 0 -2.6 0M1225.2 299.5m-1.3 0a1.3 1.3 0 1 0 2.6 0a1.3 1.3 0 1 0 -2.6 0M1230.0 298.8m-1.3 0a1.3 1.3 0 1 0 2.6 0a1.3 1.3 0 1 0 -2.6 0M1236.1 301.0m-1.3 0a1.3 1.3 0 1 0 2.6 0a1.3 1.3 0 1 0 -2.6 0M1243.0 299.0m-1.3 0a1.3 1.3 0 1 0 2.6 0a1.3 1.3 0 1 0 -2.6 0M1250.2 301.3m-1.3 0a1.3 1.3 0 1 0 2.6 0a1.3 1.3 0 1 0 -2.6 0M1254.8 298.7m-1.3 0a1.3 1.3 0 1 0 2.6 0a1.3 1.3 0 1 0 -2.6 0M1260.1 298.6m-1.3 0a1.3 1.3 0 1 0 2.6 0a1.3 1.3 0 1 0 -2.6 0M1215.6 304.5m-1.3 0a1.3 1.3 0 1 0 2.6 0a1.3 1.3 0 1 0 -2.6 0M1220.7 304.3m-1.3 0a1.3 1.3 0 1 0 2.6 0a1.3 1.3 0 1 0 -2.6 0M1229.4 303.9m-1.3 0a1.3 1.3 0 1 0 2.6 0a1.3 1.3 0 1 0 -2.6 0M1234.0 305.4m-1.3 0a1.3 1.3 0 1 0 2.6 0a1.3 1.3 0 1 0 -2.6 0M1241.1 304.1m-1.3 0a1.3 1.3 0 1 0 2.6 0a1.3 1.3 0 1 0 -2.6 0M1245.3 304.2m-1.3 0a1.3 1.3 0 1 0 2.6 0a1.3 1.3 0 1 0 -2.6 0M1251.7 304.8m-1.3 0a1.3 1.3 0 1 0 2.6 0a1.3 1.3 0 1 0 -2.6 0M1259.4 306.0m-1.3 0a1.3 1.3 0 1 0 2.6 0a1.3 1.3 0 1 0 -2.6 0M1214.0 311.3m-1.3 0a1.3 1.3 0 1 0 2.6 0a1.3 1.3 0 1 0 -2.6 0M1220.4 309.4m-1.3 0a1.3 1.3 0 1 0 2.6 0a1.3 1.3 0 1 0 -2.6 0M1223.8 309.2m-1.3 0a1.3 1.3 0 1 0 2.6 0a1.3 1.3 0 1 0 -2.6 0M1231.1 310.7m-1.3 0a1.3 1.3 0 1 0 2.6 0a1.3 1.3 0 1 0 -2.6 0M1238.3 310.9m-1.3 0a1.3 1.3 0 1 0 2.6 0a1.3 1.3 0 1 0 -2.6 0M1243.4 311.0m-1.3 0a1.3 1.3 0 1 0 2.6 0a1.3 1.3 0 1 0 -2.6 0M1248.9 310.4m-1.3 0a1.3 1.3 0 1 0 2.6 0a1.3 1.3 0 1 0 -2.6 0M1253.6 311.0m-1.3 0a1.3 1.3 0 1 0 2.6 0a1.3 1.3 0 1 0 -2.6 0M1260.2 311.5m-1.3 0a1.3 1.3 0 1 0 2.6 0a1.3 1.3 0 1 0 -2.6 0M1215.7 314.6m-1.3 0a1.3 1.3 0 1 0 2.6 0a1.3 1.3 0 1 0 -2.6 0M1222.3 313.9m-1.3 0a1.3 1.3 0 1 0 2.6 0a1.3 1.3 0 1 0 -2.6 0M1227.4 315.3m-1.3 0a1.3 1.3 0 1 0 2.6 0a1.3 1.3 0 1 0 -2.6 0M1235.4 315.8m-1.3 0a1.3 1.3 0 1 0 2.6 0a1.3 1.3 0 1 0 -2.6 0M1241.2 315.3m-1.3 0a1.3 1.3 0 1 0 2.6 0a1.3 1.3 0 1 0 -2.6 0M1245.2 314.6m-1.3 0a1.3 1.3 0 1 0 2.6 0a1.3 1.3 0 1 0 -2.6 0M1253.4 316.0m-1.3 0a1.3 1.3 0 1 0 2.6 0a1.3 1.3 0 1 0 -2.6 0M1257.4 314.0m-1.3 0a1.3 1.3 0 1 0 2.6 0a1.3 1.3 0 1 0 -2.6 0M1213.5 319.7m-1.3 0a1.3 1.3 0 1 0 2.6 0a1.3 1.3 0 1 0 -2.6 0M1219.9 321.3m-1.3 0a1.3 1.3 0 1 0 2.6 0a1.3 1.3 0 1 0 -2.6 0M1225.0 319.7m-1.3 0a1.3 1.3 0 1 0 2.6 0a1.3 1.3 0 1 0 -2.6 0M1232.4 320.0m-1.3 0a1.3 1.3 0 1 0 2.6 0a1.3 1.3 0 1 0 -2.6 0M1238.0 319.8m-1.3 0a1.3 1.3 0 1 0 2.6 0a1.3 1.3 0 1 0 -2.6 0M1242.2 321.4m-1.3 0a1.3 1.3 0 1 0 2.6 0a1.3 1.3 0 1 0 -2.6 0M1248.4 322.0m-1.3 0a1.3 1.3 0 1 0 2.6 0a1.3 1.3 0 1 0 -2.6 0M1255.0 319.7m-1.3 0a1.3 1.3 0 1 0 2.6 0a1.3 1.3 0 1 0 -2.6 0M1217.2 327.0m-1.3 0a1.3 1.3 0 1 0 2.6 0a1.3 1.3 0 1 0 -2.6 0M1222.7 327.3m-1.3 0a1.3 1.3 0 1 0 2.6 0a1.3 1.3 0 1 0 -2.6 0M1229.3 325.3m-1.3 0a1.3 1.3 0 1 0 2.6 0a1.3 1.3 0 1 0 -2.6 0M1233.1 327.1m-1.3 0a1.3 1.3 0 1 0 2.6 0a1.3 1.3 0 1 0 -2.6 0M1240.7 324.4m-1.3 0a1.3 1.3 0 1 0 2.6 0a1.3 1.3 0 1 0 -2.6 0M1246.5 325.4m-1.3 0a1.3 1.3 0 1 0 2.6 0a1.3 1.3 0 1 0 -2.6 0M1251.6 325.3m-1.3 0a1.3 1.3 0 1 0 2.6 0a1.3 1.3 0 1 0 -2.6 0M1257.0 324.3m-1.3 0a1.3 1.3 0 1 0 2.6 0a1.3 1.3 0 1 0 -2.6 0M1211.6 330.9m-1.3 0a1.3 1.3 0 1 0 2.6 0a1.3 1.3 0 1 0 -2.6 0M1218.6 332.3m-1.3 0a1.3 1.3 0 1 0 2.6 0a1.3 1.3 0 1 0 -2.6 0M1224.1 330.6m-1.3 0a1.3 1.3 0 1 0 2.6 0a1.3 1.3 0 1 0 -2.6 0M1232.2 329.6m-1.3 0a1.3 1.3 0 1 0 2.6 0a1.3 1.3 0 1 0 -2.6 0M1236.7 331.9m-1.3 0a1.3 1.3 0 1 0 2.6 0a1.3 1.3 0 1 0 -2.6 0M1243.8 329.6m-1.3 0a1.3 1.3 0 1 0 2.6 0a1.3 1.3 0 1 0 -2.6 0M1247.6 329.7m-1.3 0a1.3 1.3 0 1 0 2.6 0a1.3 1.3 0 1 0 -2.6 0M1256.3 330.3m-1.3 0a1.3 1.3 0 1 0 2.6 0a1.3 1.3 0 1 0 -2.6 0M1208.5 337.0m-1.3 0a1.3 1.3 0 1 0 2.6 0a1.3 1.3 0 1 0 -2.6 0M1217.2 336.6m-1.3 0a1.3 1.3 0 1 0 2.6 0a1.3 1.3 0 1 0 -2.6 0M1223.3 334.8m-1.3 0a1.3 1.3 0 1 0 2.6 0a1.3 1.3 0 1 0 -2.6 0M1227.2 336.1m-1.3 0a1.3 1.3 0 1 0 2.6 0a1.3 1.3 0 1 0 -2.6 0M1235.4 337.6m-1.3 0a1.3 1.3 0 1 0 2.6 0a1.3 1.3 0 1 0 -2.6 0M1239.7 335.5m-1.3 0a1.3 1.3 0 1 0 2.6 0a1.3 1.3 0 1 0 -2.6 0M1245.8 336.2m-1.3 0a1.3 1.3 0 1 0 2.6 0a1.3 1.3 0 1 0 -2.6 0M1253.3 335.2m-1.3 0a1.3 1.3 0 1 0 2.6 0a1.3 1.3 0 1 0 -2.6 0M1206.1 342.2m-1.3 0a1.3 1.3 0 1 0 2.6 0a1.3 1.3 0 1 0 -2.6 0M1212.2 340.1m-1.3 0a1.3 1.3 0 1 0 2.6 0a1.3 1.3 0 1 0 -2.6 0M1217.6 341.6m-1.3 0a1.3 1.3 0 1 0 2.6 0a1.3 1.3 0 1 0 -2.6 0M1224.5 342.8m-1.3 0a1.3 1.3 0 1 0 2.6 0a1.3 1.3 0 1 0 -2.6 0M1232.2 342.9m-1.3 0a1.3 1.3 0 1 0 2.6 0a1.3 1.3 0 1 0 -2.6 0M1236.3 340.2m-1.3 0a1.3 1.3 0 1 0 2.6 0a1.3 1.3 0 1 0 -2.6 0M1241.8 341.4m-1.3 0a1.3 1.3 0 1 0 2.6 0a1.3 1.3 0 1 0 -2.6 0M1249.6 341.2m-1.3 0a1.3 1.3 0 1 0 2.6 0a1.3 1.3 0 1 0 -2.6 0M1254.2 341.2m-1.3 0a1.3 1.3 0 1 0 2.6 0a1.3 1.3 0 1 0 -2.6 0M1204.2 346.2m-1.3 0a1.3 1.3 0 1 0 2.6 0a1.3 1.3 0 1 0 -2.6 0M1210.7 345.7m-1.3 0a1.3 1.3 0 1 0 2.6 0a1.3 1.3 0 1 0 -2.6 0M1215.2 345.8m-1.3 0a1.3 1.3 0 1 0 2.6 0a1.3 1.3 0 1 0 -2.6 0M1221.0 347.8m-1.3 0a1.3 1.3 0 1 0 2.6 0a1.3 1.3 0 1 0 -2.6 0M1228.2 346.1m-1.3 0a1.3 1.3 0 1 0 2.6 0a1.3 1.3 0 1 0 -2.6 0M1233.7 348.1m-1.3 0a1.3 1.3 0 1 0 2.6 0a1.3 1.3 0 1 0 -2.6 0M1240.0 345.8m-1.3 0a1.3 1.3 0 1 0 2.6 0a1.3 1.3 0 1 0 -2.6 0M1246.9 347.1m-1.3 0a1.3 1.3 0 1 0 2.6 0a1.3 1.3 0 1 0 -2.6 0M1253.5 345.4m-1.3 0a1.3 1.3 0 1 0 2.6 0a1.3 1.3 0 1 0 -2.6 0M1202.4 352.0m-1.3 0a1.3 1.3 0 1 0 2.6 0a1.3 1.3 0 1 0 -2.6 0M1208.3 351.4m-1.3 0a1.3 1.3 0 1 0 2.6 0a1.3 1.3 0 1 0 -2.6 0M1214.1 351.6m-1.3 0a1.3 1.3 0 1 0 2.6 0a1.3 1.3 0 1 0 -2.6 0M1218.3 352.6m-1.3 0a1.3 1.3 0 1 0 2.6 0a1.3 1.3 0 1 0 -2.6 0M1226.3 350.6m-1.3 0a1.3 1.3 0 1 0 2.6 0a1.3 1.3 0 1 0 -2.6 0M1231.3 352.2m-1.3 0a1.3 1.3 0 1 0 2.6 0a1.3 1.3 0 1 0 -2.6 0M1236.2 351.4m-1.3 0a1.3 1.3 0 1 0 2.6 0a1.3 1.3 0 1 0 -2.6 0M1241.9 350.9m-1.3 0a1.3 1.3 0 1 0 2.6 0a1.3 1.3 0 1 0 -2.6 0M1248.3 352.1m-1.3 0a1.3 1.3 0 1 0 2.6 0a1.3 1.3 0 1 0 -2.6 0M1255.5 350.9m-1.3 0a1.3 1.3 0 1 0 2.6 0a1.3 1.3 0 1 0 -2.6 0M1198.9 357.1m-1.3 0a1.3 1.3 0 1 0 2.6 0a1.3 1.3 0 1 0 -2.6 0M1202.7 355.8m-1.3 0a1.3 1.3 0 1 0 2.6 0a1.3 1.3 0 1 0 -2.6 0M1209.7 357.2m-1.3 0a1.3 1.3 0 1 0 2.6 0a1.3 1.3 0 1 0 -2.6 0M1216.4 355.8m-1.3 0a1.3 1.3 0 1 0 2.6 0a1.3 1.3 0 1 0 -2.6 0M1221.0 357.6m-1.3 0a1.3 1.3 0 1 0 2.6 0a1.3 1.3 0 1 0 -2.6 0M1227.7 356.3m-1.3 0a1.3 1.3 0 1 0 2.6 0a1.3 1.3 0 1 0 -2.6 0M1233.4 358.4m-1.3 0a1.3 1.3 0 1 0 2.6 0a1.3 1.3 0 1 0 -2.6 0M1239.4 357.2m-1.3 0a1.3 1.3 0 1 0 2.6 0a1.3 1.3 0 1 0 -2.6 0M1245.6 356.7m-1.3 0a1.3 1.3 0 1 0 2.6 0a1.3 1.3 0 1 0 -2.6 0M1253.1 358.5m-1.3 0a1.3 1.3 0 1 0 2.6 0a1.3 1.3 0 1 0 -2.6 0M1200.7 363.3m-1.3 0a1.3 1.3 0 1 0 2.6 0a1.3 1.3 0 1 0 -2.6 0M1206.9 361.2m-1.3 0a1.3 1.3 0 1 0 2.6 0a1.3 1.3 0 1 0 -2.6 0M1211.5 362.4m-1.3 0a1.3 1.3 0 1 0 2.6 0a1.3 1.3 0 1 0 -2.6 0M1219.4 363.4m-1.3 0a1.3 1.3 0 1 0 2.6 0a1.3 1.3 0 1 0 -2.6 0M1223.8 362.6m-1.3 0a1.3 1.3 0 1 0 2.6 0a1.3 1.3 0 1 0 -2.6 0M1230.6 362.2m-1.3 0a1.3 1.3 0 1 0 2.6 0a1.3 1.3 0 1 0 -2.6 0M1235.9 361.5m-1.3 0a1.3 1.3 0 1 0 2.6 0a1.3 1.3 0 1 0 -2.6 0M1243.1 363.5m-1.3 0a1.3 1.3 0 1 0 2.6 0a1.3 1.3 0 1 0 -2.6 0M1247.8 362.2m-1.3 0a1.3 1.3 0 1 0 2.6 0a1.3 1.3 0 1 0 -2.6 0M1191.9 366.1m-1.3 0a1.3 1.3 0 1 0 2.6 0a1.3 1.3 0 1 0 -2.6 0M1199.3 367.1m-1.3 0a1.3 1.3 0 1 0 2.6 0a1.3 1.3 0 1 0 -2.6 0M1205.2 367.8m-1.3 0a1.3 1.3 0 1 0 2.6 0a1.3 1.3 0 1 0 -2.6 0M1211.0 366.4m-1.3 0a1.3 1.3 0 1 0 2.6 0a1.3 1.3 0 1 0 -2.6 0M1216.9 366.6m-1.3 0a1.3 1.3 0 1 0 2.6 0a1.3 1.3 0 1 0 -2.6 0M1221.7 368.4m-1.3 0a1.3 1.3 0 1 0 2.6 0a1.3 1.3 0 1 0 -2.6 0M1229.0 366.4m-1.3 0a1.3 1.3 0 1 0 2.6 0a1.3 1.3 0 1 0 -2.6 0M1233.2 367.1m-1.3 0a1.3 1.3 0 1 0 2.6 0a1.3 1.3 0 1 0 -2.6 0M1240.1 367.1m-1.3 0a1.3 1.3 0 1 0 2.6 0a1.3 1.3 0 1 0 -2.6 0M1244.9 366.6m-1.3 0a1.3 1.3 0 1 0 2.6 0a1.3 1.3 0 1 0 -2.6 0M1190.0 371.5m-1.3 0a1.3 1.3 0 1 0 2.6 0a1.3 1.3 0 1 0 -2.6 0M1195.3 372.8m-1.3 0a1.3 1.3 0 1 0 2.6 0a1.3 1.3 0 1 0 -2.6 0M1201.4 372.0m-1.3 0a1.3 1.3 0 1 0 2.6 0a1.3 1.3 0 1 0 -2.6 0M1206.8 372.8m-1.3 0a1.3 1.3 0 1 0 2.6 0a1.3 1.3 0 1 0 -2.6 0M1212.8 373.1m-1.3 0a1.3 1.3 0 1 0 2.6 0a1.3 1.3 0 1 0 -2.6 0M1218.8 372.4m-1.3 0a1.3 1.3 0 1 0 2.6 0a1.3 1.3 0 1 0 -2.6 0M1223.6 373.0m-1.3 0a1.3 1.3 0 1 0 2.6 0a1.3 1.3 0 1 0 -2.6 0M1231.0 371.8m-1.3 0a1.3 1.3 0 1 0 2.6 0a1.3 1.3 0 1 0 -2.6 0M1237.8 373.4m-1.3 0a1.3 1.3 0 1 0 2.6 0a1.3 1.3 0 1 0 -2.6 0M1242.9 371.6m-1.3 0a1.3 1.3 0 1 0 2.6 0a1.3 1.3 0 1 0 -2.6 0M1248.9 371.4m-1.3 0a1.3 1.3 0 1 0 2.6 0a1.3 1.3 0 1 0 -2.6 0M1217.4 376.7m-1.3 0a1.3 1.3 0 1 0 2.6 0a1.3 1.3 0 1 0 -2.6 0"/>
</g>
<g fill="#2a2a2a" stroke="#2a2a2a" stroke-width="0.55" font-family="'Liberation Serif', serif">
<g font-size="37" text-anchor="middle">
<text x="212.3" y="359.0">a</text>
<text x="318.7" y="600.0">c</text>
<text x="631.2" y="585.0">d</text>
<text x="1117.3" y="642.5">b</text>
</g>
<g font-size="32">
<text x="671" y="747.5" font-style="italic" textLength="175" lengthAdjust="spacingAndGlyphs">Pseudocloeon</text>
<text x="857" y="747.5" font-style="italic" textLength="119" lengthAdjust="spacingAndGlyphs">klapelini</text>
<text x="989.5" y="747.5" textLength="120.5" lengthAdjust="spacingAndGlyphs">Klapalek</text>
<text x="1186.7" y="747.5" textLength="120.5" lengthAdjust="spacingAndGlyphs">Klapalek</text>
<text x="440" y="802.5">a.</text>
<text x="573" y="802.5">b.</text>
<text x="835" y="802.5">c.</text>
<text x="965.4" y="802.5">d.</text>
</g>
<text x="98.9" y="748.6" font-size="33" textLength="32.5" lengthAdjust="spacingAndGlyphs">32</text>
</g>
<g fill="#2a2a2a" stroke="#2a2a2a" stroke-width="0.3" stroke-linejoin="round" font-family="'Liberation Serif', 'Noto Serif CJK SC', serif" font-size="31.5" font-weight="bold">
<text x="63.85" y="750">图</text>
<text x="165.19 198.17 231.24 264.66 298.50 330.41 363.18 397.33 431.98 462.64 494.49 529.19 561.17 594.24 627.16" y="750">假二翅蜉属模式种，克氏假二翅蜉</text>
<text x="1111.50 1143.27" y="750">（仿</text>
<text x="1308.50" y="750">）</text>
<text x="309.90 342.89 374.68" y="805">雄成虫</text>
<text x="473.23 506.24 538.63" y="805">前翅；</text>
<text x="606.33 640.04 671.58 704.06 738.16 770.66 804.93" y="805">生殖器腹面观；</text>
<text x="866.83 900.11 934.63" y="805">前足；</text>
<text x="997.89 1032.11 1068.05" y="805">后足。</text>
</g>
</svg>
</body></html>
